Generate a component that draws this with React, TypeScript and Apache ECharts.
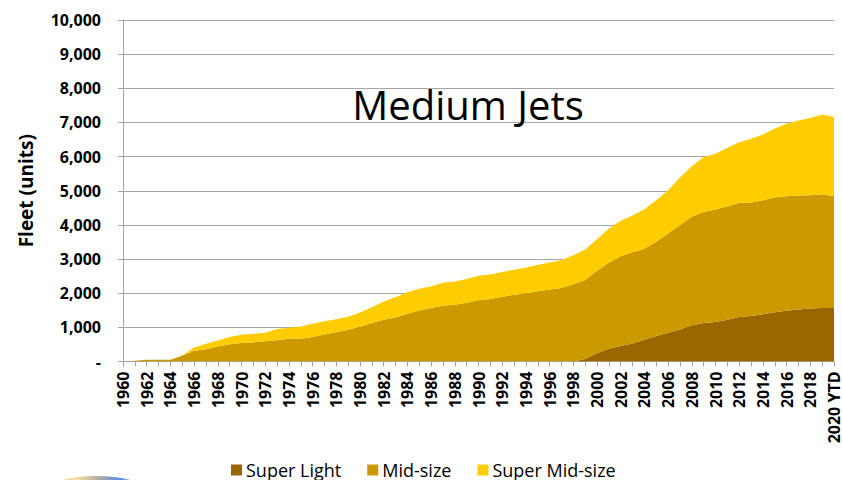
import React, { useEffect, useRef } from "react";
import * as echarts from "echarts";

const years: string[] = [];
for (let y = 1960; y <= 2019; y++) years.push(String(y));
years.push("2020 YTD");

const superLight = [
  0, 0, 0, 0, 0, 0, 0, 0, 0, 0,
  0, 0, 0, 0, 0, 0, 0, 0, 0, 0,
  0, 0, 0, 0, 0, 0, 0, 0, 0, 0,
  0, 0, 0, 0, 0, 0, 0, 0, 0, 70,
  240, 375, 455, 530, 640, 745, 845, 940, 1065, 1125,
  1155, 1225, 1300, 1330, 1380, 1440, 1485, 1525, 1555, 1565,
  1565,
];

const midSize = [
  0, 20, 50, 50, 50, 175, 315, 360, 440, 505,
  540, 560, 590, 625, 665, 665, 715, 790, 860, 930,
  1015, 1125, 1220, 1290, 1400, 1495, 1565, 1630, 1660, 1720,
  1790, 1830, 1895, 1955, 1995, 2055, 2110, 2150, 2260, 2315,
  2415, 2515, 2630, 2670, 2660, 2760, 2905, 3050, 3170, 3255,
  3295, 3320, 3345, 3325, 3340, 3360, 3355, 3335, 3315, 3335,
  3275,
];

const superMidSize = [
  0, 0, 0, 0, 0, 0, 95, 160, 175, 215,
  240, 250, 250, 325, 320, 360, 390, 385, 380, 380,
  420, 460, 540, 595, 625, 635, 635, 675, 685, 695,
  720, 720, 725, 735, 760, 770, 790, 820, 850, 895,
  925, 1005, 1035, 1075, 1160, 1215, 1265, 1395, 1480, 1610,
  1635, 1715, 1775, 1870, 1930, 2020, 2125, 2200, 2260, 2335,
  2320,
];

const seriesNames = ["Super Light", "Mid-size", "Super Mid-size"];
const seriesColors = ["#996600", "#CC9900", "#FFCC00"];
const seriesData = [superLight, midSize, superMidSize];

const FONT = "'Open Sans', sans-serif";

export default function App() {
  const ref = useRef<HTMLDivElement>(null);
  useEffect(() => {
    if (!ref.current) return;
    const chart = echarts.init(ref.current, undefined, { renderer: "svg" });
    chart.setOption({
      animation: false,
      backgroundColor: "#ffffff",
      textStyle: { fontFamily: FONT },
      grid: { left: 123, right: 2, top: 20, bottom: 118.5, containLabel: false },
      legend: {
        data: seriesNames,
        left: 226,
        top: 456,
        icon: "rect",
        itemWidth: 11,
        itemHeight: 11,
        itemGap: 26,
        textStyle: { fontFamily: FONT, fontSize: 18, color: "#000000", padding: [0, 0, 0, -1] },
      },
      xAxis: {
        type: "category",
        data: years,
        boundaryGap: false,
        axisLine: { show: true, lineStyle: { color: "#a6a6a6", width: 1 } },
        axisTick: { show: true, interval: 0, length: 5, lineStyle: { color: "#a6a6a6" } },
        axisLabel: {
          interval: 1,
          rotate: 90,
          margin: 10,
          fontFamily: FONT,
          fontWeight: "bold",
          fontSize: 16,
          color: "#000000",
        },
        splitLine: { show: false },
      },
      yAxis: {
        type: "value",
        min: 0,
        max: 10000,
        interval: 1000,
        name: "Fleet (units)",
        nameLocation: "middle",
        nameRotate: 90,
        nameGap: 88,
        nameTextStyle: { fontFamily: FONT, fontWeight: "bold", fontSize: 19, color: "#000000" },
        axisLine: { show: true, lineStyle: { color: "#a6a6a6", width: 1 } },
        axisTick: { show: true, length: 5, lineStyle: { color: "#a6a6a6" } },
        axisLabel: {
          margin: 22,
          fontFamily: FONT,
          fontWeight: "bold",
          fontSize: 16,
          color: "#000000",
          formatter: (v: number) => (v === 0 ? "-" : v.toLocaleString("en-US")),
        },
        splitLine: { show: true, lineStyle: { color: "#a6a6a6", width: 1 } },
      },
      series: seriesNames.map((name, i) => ({
        name,
        type: "line",
        stack: "total",
        data: seriesData[i],
        symbol: "none",
        lineStyle: { width: 0 },
        itemStyle: { color: seriesColors[i] },
        areaStyle: { color: seriesColors[i], opacity: 1 },
        z: 2,
      })),
      graphic: [
        {
          type: "text",
          x: 468,
          y: 104,
          style: {
            text: "Medium Jets",
            fontFamily: FONT,
            fontSize: 40,
            fill: "#000000",
            textAlign: "center",
            textVerticalAlign: "middle",
          },
          z: 10,
        },
        {
          type: "ellipse",
          shape: { cx: 96, cy: 498, rx: 60, ry: 22 },
          style: {
            fill: new echarts.graphic.LinearGradient(0, 0, 1, 0, [
              { offset: 0, color: "#f7ecd4" },
              { offset: 0.35, color: "#f3d9a0" },
              { offset: 0.55, color: "#a8a8a8" },
              { offset: 0.7, color: "#5b8def" },
              { offset: 1, color: "#dfe9fb" },
            ]),
          },
          z: 1,
        },
      ],
    });
    return () => chart.dispose();
  }, []);
  return <div ref={ref} style={{ width: 842, height: 480, position: "absolute", left: 0, top: 0 }} />;
}
